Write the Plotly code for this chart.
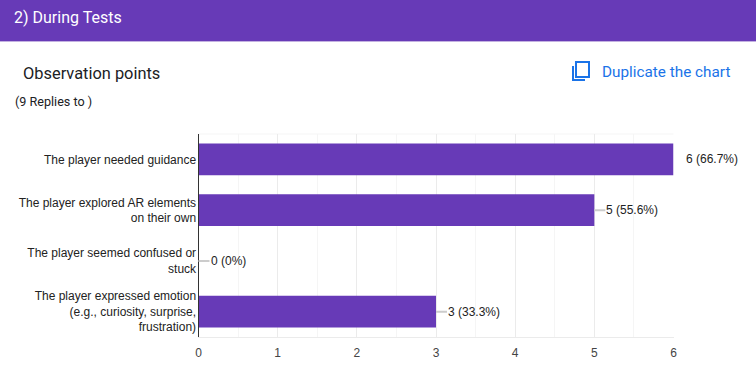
import plotly.graph_objects as go

W, H = 756, 382
categories = [
    "The player needed guidance",
    "The player explored AR elements<br>on their own",
    "The player seemed confused or<br>stuck",
    "The player expressed emotion<br>(e.g., curiosity, surprise,<br>frustration)",
]
counts = [6, 5, 0, 3]
percents = ["66.7%", "55.6%", "0%", "33.3%"]
tick_values = [0, 1, 2, 3, 4, 5, 6]
header_title = "2) During Tests"
chart_title = "Observation points"
subtitle = "(9 Replies to )"
action_text = "Duplicate the chart"

PURPLE = "#673ab7"
BLUE = "#1a73e8"


def px(x):
    return x / W


def py(y):
    return 1 - y / H


def path(points):
    return "M " + " L ".join(f"{px(x):.5f},{py(y):.5f}" for x, y in points)


fig = go.Figure(
    go.Bar(
        x=counts,
        y=categories,
        orientation="h",
        width=0.63,
        marker=dict(color=PURPLE, line=dict(width=0)),
        hoverinfo="skip",
    )
)

annotations = []
for c, p, cat in zip(counts, percents, categories):
    annotations.append(dict(
        x=c, y=cat, xref="x", yref="y",
        text=f"{c} ({p})",
        showarrow=True, arrowhead=0, arrowwidth=2,
        arrowcolor="rgba(0,0,0,0)" if c == max(counts) else "#cccccc",
        ax=11, ay=0, axref="pixel", ayref="pixel",
        xanchor="left", yanchor="middle", borderpad=0, standoff=0,
        font=dict(family="Liberation Sans, Arial", size=12, color="#222222"),
    ))


def page_text(x, y, text, size, color, family="Roboto"):
    return dict(
        x=px(x), y=py(y), xref="paper", yref="paper", text=text, showarrow=False,
        xanchor="left", yanchor="middle", borderpad=0,
        font=dict(family=family, size=size, color=color),
    )


annotations += [
    page_text(13, 17, header_title, 16, "#ffffff"),
    page_text(22, 73, chart_title, 16.4, "#202124"),
    page_text(14, 101, subtitle, 12.6, "#202124"),
    page_text(600.5, 72, action_text, 15.3, BLUE),
]

shapes = [
    dict(type="rect", xref="paper", yref="paper", x0=0, x1=1, y0=py(41), y1=1,
         fillcolor=PURPLE, line=dict(width=0), layer="above"),
    dict(type="line", xref="paper", yref="paper", x0=0, x1=1, y0=py(41.5), y1=py(41.5),
         line=dict(color="#c3b1e1", width=1), layer="above"),
    dict(type="line", xref="x domain", yref="y domain", x0=0, x1=1, y0=1, y1=1,
         line=dict(color="#f5f5f5", width=1), layer="below"),
    dict(type="path", xref="paper", yref="paper",
         path=path([(576, 62), (589, 62), (589, 77), (576, 77)]) + " Z",
         line=dict(color=BLUE, width=2)),
    dict(type="path", xref="paper", yref="paper",
         path=path([(573, 66), (573, 80), (585, 80)]),
         line=dict(color=BLUE, width=2)),
]

fig.update_layout(
    width=W, height=H,
    margin=dict(l=0, r=0, t=0, b=0),
    paper_bgcolor="white", plot_bgcolor="white",
    showlegend=False,
    annotations=annotations,
    shapes=shapes,
    xaxis=dict(
        automargin=False,
        domain=[198.5 / W, 673.5 / W],
        range=[0, 6],
        tickvals=tick_values,
        showgrid=True, gridcolor="#ebebeb", gridwidth=1,
        minor=dict(dtick=0.5, showgrid=True, gridcolor="#f5f5f5", gridwidth=1),
        zeroline=False,
        showline=True, linecolor="#ebebeb", linewidth=1,
        ticks="", ticklen=0, ticklabelstandoff=5,
        tickfont=dict(family="Liberation Sans, Arial", size=12, color="#444444"),
    ),
    yaxis=dict(
        automargin=False,
        domain=[1 - 337 / H, 1 - 134 / H],
        categoryorder="array", categoryarray=categories[::-1],
        showgrid=False, zeroline=False,
        showline=True, linecolor="#333333", linewidth=1,
        ticks="", ticklen=0, ticklabelstandoff=-1,
        tickfont=dict(family="Liberation Sans, Arial", size=12, color="#222222"),
    ),
)

fig.write_html(
    "out.html",
    config={"displayModeBar": False},
    post_script="document.body.style.margin='0';document.documentElement.style.overflow='hidden';",
)
